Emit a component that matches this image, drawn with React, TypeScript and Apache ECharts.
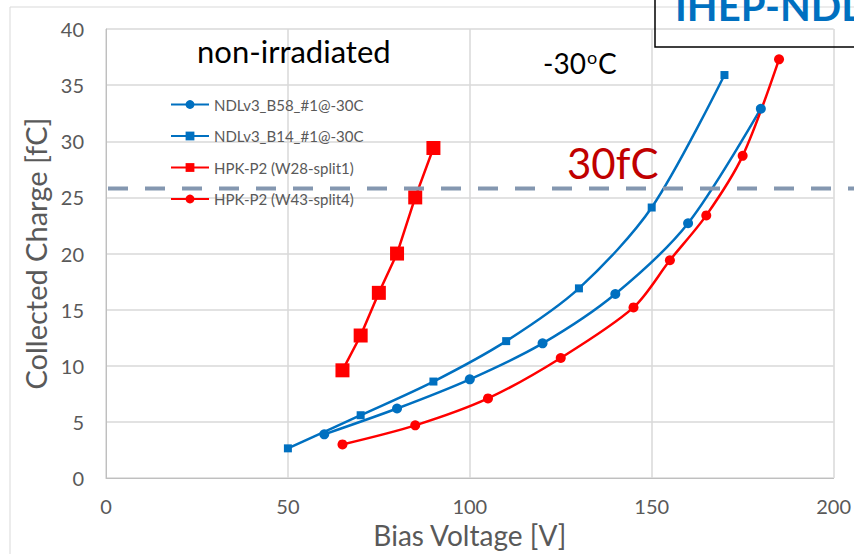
import React, { useEffect, useRef } from "react";
import * as echarts from "echarts";

const SERIES_NAMES = [
  "NDLv3_B58_#1@-30C",
  "NDLv3_B14_#1@-30C",
  "HPK-P2 (W28-split1)",
  "HPK-P2 (W43-split4)",
];

const B58_V = [60, 80, 100, 120, 140, 160, 180];
const B58_Q = [3.9, 6.2, 8.8, 12.0, 16.4, 22.7, 32.9];

const B14_V = [50, 70, 90, 110, 130, 150, 170];
const B14_Q = [2.65, 5.6, 8.6, 12.2, 16.9, 24.1, 35.9];

const W28_V = [65, 70, 75, 80, 85, 90];
const W28_Q = [9.6, 12.7, 16.5, 20.0, 25.0, 29.4];

const W43_V = [65, 85, 105, 125, 145, 155, 165, 175, 185];
const W43_Q = [3.0, 4.7, 7.1, 10.7, 15.2, 19.4, 23.4, 28.7, 37.3];

const THRESHOLD = 25.8;

const X_TICKS = [0, 50, 100, 150, 200];
const Y_TICKS = [0, 5, 10, 15, 20, 25, 30, 35, 40];

const BLUE = "#0070C0";
const RED = "#FF0000";
const FONT = "Lato, 'Open Sans', sans-serif";

const zip = (a: number[], b: number[]) => a.map((v, i) => [v, b[i]]);

export default function App() {
  const ref = useRef<HTMLDivElement>(null);
  useEffect(() => {
    if (!ref.current) return;
    const chart = echarts.init(ref.current, undefined, { renderer: "svg" });
    const axisLabel = { color: "#595959", fontSize: 20, fontFamily: FONT };
    const mkLine = (
      name: string,
      v: number[],
      q: number[],
      color: string,
      symbol: string,
      size: number,
      smooth: number | boolean
    ) => ({
      type: "line",
      name,
      data: zip(v, q),
      smooth,
      symbol,
      symbolSize: size,
      showAllSymbol: true,
      lineStyle: { color, width: 2.5 },
      itemStyle: { color },
      z: 3,
    });
    const baseGraphic: any[] = [
      {
        type: "rect",
        shape: { x: 10, y: 7, width: 900, height: 600 },
        style: { fill: "none", stroke: "#D9D9D9", lineWidth: 1 },
        silent: true,
        z: 0,
      },
      {
        type: "text",
        x: 197,
        y: 51,
        style: {
          text: "non-irradiated",
          font: `31px ${FONT}`,
          fill: "#000",
          textVerticalAlign: "middle",
        },
        z: 10,
      },
      {
        type: "text",
        x: 543,
        y: 63,
        style: {
          text: "{a|-30}{b|o}{a|C}",
          fill: "#000",
          textVerticalAlign: "middle",
          rich: {
            a: { fontSize: 28, fontFamily: FONT, color: "#000" },
            b: { fontSize: 18, fontFamily: FONT, color: "#000", verticalAlign: "top", padding: [0, 1, 12, 1] },
          },
        },
        z: 10,
      },
      {
        type: "text",
        x: 567,
        y: 163,
        style: {
          text: "30fC",
          font: `42px ${FONT}`,
          fill: "#C00000",
          textVerticalAlign: "middle",
        },
        z: 10,
      },
      {
        type: "rect",
        shape: { x: 655, y: -10, width: 220, height: 57 },
        style: { fill: "none", stroke: "#000", lineWidth: 1.5 },
        z: 10,
      },
      {
        type: "text",
        x: 675,
        y: 26,
        style: {
          text: "IHEP-NDL",
          font: `bold 40px ${FONT}`,
          fill: BLUE,
          textVerticalAlign: "bottom",
        },
        z: 10,
      },
    ];
    const option: any = {
      animation: false,
      backgroundColor: "#fff",
      grid: { left: 106, right: 17, top: 29, bottom: 73, containLabel: false },
      legend: {
        orient: "vertical",
        left: 165,
        top: 92,
        itemWidth: 38,
        itemHeight: 11,
        itemGap: 16.5,
        data: SERIES_NAMES,
        textStyle: { color: "#595959", fontSize: 15, fontFamily: FONT },
      },
      xAxis: {
        type: "value",
        min: X_TICKS[0],
        max: X_TICKS[X_TICKS.length - 1],
        interval: 50,
        name: "Bias Voltage [V]",
        nameLocation: "middle",
        nameGap: 38,
        nameTextStyle: { color: "#595959", fontSize: 28, fontFamily: FONT },
        axisLine: { show: true, lineStyle: { color: "#BFBFBF", width: 1 } },
        axisTick: { show: false },
        axisLabel: { ...axisLabel, margin: 18 },
        splitLine: { show: true, lineStyle: { color: "#D9D9D9", width: 1.5 } },
      },
      yAxis: {
        type: "value",
        min: Y_TICKS[0],
        max: Y_TICKS[Y_TICKS.length - 1],
        interval: 5,
        name: "Collected Charge [fC]",
        nameLocation: "middle",
        nameGap: 56,
        nameTextStyle: { color: "#595959", fontSize: 29, fontFamily: FONT },
        axisLine: { show: true, lineStyle: { color: "#BFBFBF", width: 1 } },
        axisTick: { show: false },
        axisLabel: { ...axisLabel, margin: 22 },
        splitLine: { show: true, lineStyle: { color: "#D9D9D9", width: 1.5 } },
      },
      series: [
        mkLine(SERIES_NAMES[0], B58_V, B58_Q, BLUE, "circle", 10, 0.3),
        mkLine(SERIES_NAMES[1], B14_V, B14_Q, BLUE, "rect", 8, 0.3),
        mkLine(SERIES_NAMES[2], W28_V, W28_Q, RED, "rect", 14, false),
        mkLine(SERIES_NAMES[3], W43_V, W43_Q, RED, "circle", 10, 0.3),
      ],
      graphic: baseGraphic,
    };
    chart.setOption(option);
    const y = chart.convertToPixel({ yAxisIndex: 0 }, THRESHOLD) as number;
    const x0 = (chart.convertToPixel({ xAxisIndex: 0 }, X_TICKS[0]) as number) + 2;
    chart.setOption({
      graphic: [
        ...baseGraphic,
        {
          type: "line",
          shape: { x1: x0, y1: y, x2: 860, y2: y },
          style: { stroke: "#8497B0", lineWidth: 4, lineDash: [20, 17] },
          z: 5,
        },
      ],
    });
    return () => chart.dispose();
  }, []);
  return (
    <div
      ref={ref}
      style={{ position: "fixed", left: 0, top: 0, width: 854, height: 554, overflow: "hidden" }}
    />
  );
}
